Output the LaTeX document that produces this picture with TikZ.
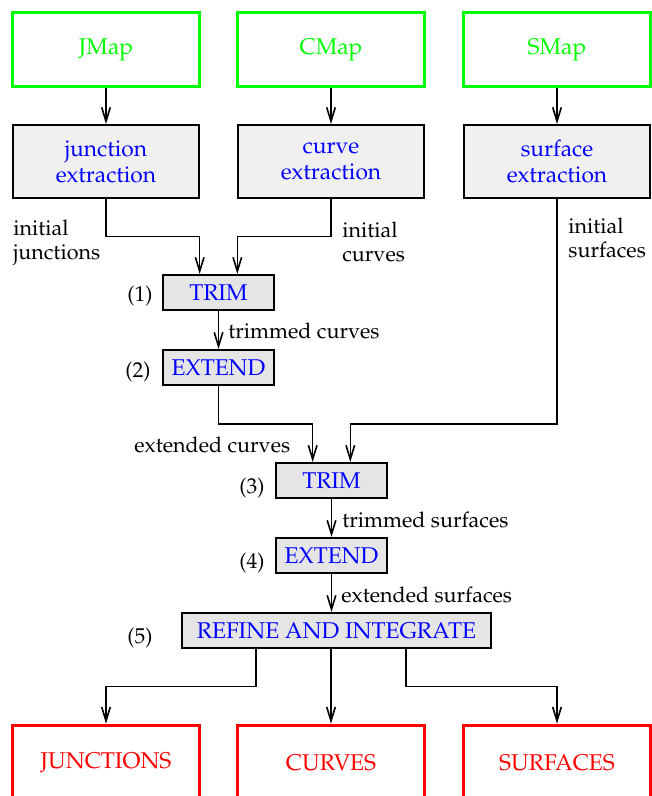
\documentclass[tikz,border=0pt]{standalone}
\usepackage[T1]{fontenc}
\usepackage{mathpazo}
\usetikzlibrary{arrows.meta,calc}

\tikzset{
  boxfont/.style={font=\fontsize{10.6}{12.1}\selectfont},
  mapbox/.style={boxfont, draw=green, line width=1.7pt, text=green, minimum width=87pt, minimum height=34.4pt},
  outbox/.style={boxfont, draw=red, line width=1.7pt, text=red, minimum width=87pt, minimum height=34.4pt},
  extbox/.style={boxfont, draw, line width=0.9pt, fill=black!6, text=blue, align=center, minimum width=86.5pt, minimum height=33.9pt},
  opbox/.style={boxfont, draw, line width=0.9pt, fill=black!10, text=blue, minimum width=51.6pt, minimum height=16.3pt},
  arr/.style={line width=0.75pt, -{Straight Barb[length=6.5pt,width=4pt]}},
  lbl/.style={anchor=base west, inner sep=0pt},
  lbl2/.style={anchor=north west, inner sep=0pt, align=left},
}

\begin{document}
\begin{tikzpicture}[x=0.465pt, y=-0.465pt]
    \useasboundingbox (0,0) rectangle (651,796);
    % maps
    \foreach \x/\n/\t in {106/jmap/JMap, 331/cmap/CMap, 557/smap/SMap}
        \node[mapbox] (\n) at (\x,49.5) {\t};
    % extraction
    \node[extbox] (jext) at (106,161.5) {junction\\extraction};
    \node[extbox] (cext) at (331,161.5) {curve\\extraction};
    \node[extbox] (sext) at (557,161.5) {surface\\extraction};
    % steps
    \node[opbox] (trim1) at (218.5,292.5) {TRIM};
    \node[opbox] (ext1) at (218.5,367.5) {EXTEND};
    \node[opbox] (trim2) at (331.5,480.5) {TRIM};
    \node[opbox] (ext2) at (331.5,555.5) {EXTEND};
    \node[opbox, minimum width=143.7pt] (refine) at (336.5,630.5) {REFINE AND INTEGRATE};
    % results
    \foreach \x/\n/\t in {106/junc/JUNCTIONS, 331/curv/CURVES, 557/surf/SURFACES}
        \node[outbox] (\n) at (\x,762.5) {\t};

    % step numbers and labels
    \foreach \n/\x/\y in {1/127/302, 2/125/377, 3/239/493, 4/239/568, 5/127/643}
        \node[lbl] (s\n) at (\x,\y) {(\n)};
    \node[lbl2] (ij) at (13,219.5) {initial\\[-1pt]junctions};
    \node[lbl2] (ic) at (342,221.5) {initial\\[-1pt]curves};
    \node[lbl2] (is) at (568,217.5) {initial\\[-1pt]surfaces};
    \node[lbl] (tc) at (228,339) {trimmed curves};
    \node[lbl] (ec) at (134,452) {extended curves};
    \node[lbl] (ts) at (342,527) {trimmed surfaces};
    \node[lbl] (es) at (341,602) {extended surfaces};

    % entry points and bends
    \coordinate (t1l) at ($(trim1.north west)!1/3!(trim1.north east)$);
    \coordinate (t1r) at ($(trim1.north west)!2/3!(trim1.north east)$);
    \coordinate (t2l) at ($(trim2.north west)!1/3!(trim2.north east)$);
    \coordinate (t2r) at ($(trim2.north west)!2/3!(trim2.north east)$);
    \coordinate (r1) at ($(refine.south west)!.241!(refine.south east)$);
    \coordinate (r3) at ($(refine.south west)!.723!(refine.south east)$);
    \coordinate (bend1) at ($(jext.south)!.5!(t1l)$);
    \coordinate (bend2) at ($(ext1.south)!.5!(t2l)$);
    \coordinate (bend3) at ($(r1)!.5!(junc.north)$);

    \foreach \a/\b in {jmap/jext, cmap/cext, smap/sext}
        \draw[arr] (\a.south) -- (\b.north);
    \draw[arr] (jext.south) |- (bend1) -| (t1l);
    \draw[arr] (cext.south) |- (t1r |- bend1) -- (t1r);
    \draw[arr] (trim1.south) -- (ext1.north);
    \draw[arr] (ext1.south) |- (bend2) -| (t2l);
    \draw[arr] (sext.south) |- (t2r |- bend2) -- (t2r);
    \draw[arr] (trim2.south) -- (ext2.north);
    \draw[arr] (ext2.south) -- (ext2.south |- refine.north);
    \draw[arr] (r1) |- (bend3) -| (junc.north);
    \draw[arr] (refine.south -| curv.north) -- (curv.north);
    \draw[arr] (r3) |- (surf.north |- bend3) -- (surf.north);
\end{tikzpicture}
\end{document}
